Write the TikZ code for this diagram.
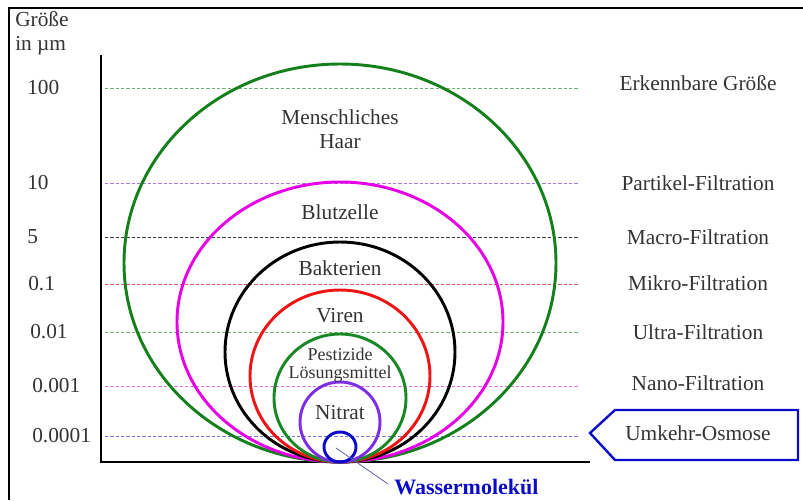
\documentclass[tikz,border=0pt]{standalone}
\usepackage{fontspec}
\setmainfont{Liberation Serif}
\usetikzlibrary{calc}

\definecolor{hairgreen}{RGB}{20,128,28}
\definecolor{bloodpink}{RGB}{230,0,230}
\definecolor{virusred}{RGB}{238,20,20}
\definecolor{pestgreen}{RGB}{25,135,35}
\definecolor{nitratviolet}{RGB}{125,45,230}
\definecolor{waterblue}{RGB}{10,10,200}
\definecolor{lgreen}{RGB}{110,180,110}
\definecolor{lviolet}{RGB}{160,120,215}
\definecolor{lblack}{RGB}{60,60,60}
\definecolor{lred}{RGB}{225,90,90}
\definecolor{lmagenta}{RGB}{230,110,230}
\definecolor{lblue}{RGB}{120,120,215}

\begin{document}
\begin{tikzpicture}[x=0.75pt,y=-0.75pt,
  lbl/.style={font=\fontsize{16}{18}\selectfont, text=black!80, inner sep=0pt},
  level/.style={dash pattern=on 2.5pt off 1.5pt, line width=0.6pt},
  ring/.style={line width=2.2pt}]
\useasboundingbox (0,0) rectangle (803,500);

% frame
\draw[line width=1.4pt] (9,500) -- (9,8) -- (803,8);

% axes
\coordinate (top) at (101,55);
\coordinate (origin) at (101,462);
\coordinate (xend) at (590,462);
\draw[line width=2.2pt] (top) -- (origin) -- (xend);
\node[lbl, anchor=north west, align=left] (unit) at (15,11) {Größe\\in \textmu m};

% sizes on the left, dashed levels
\foreach \y/\x/\val/\col/\nm in {88/27/100/lgreen/l100, 183/27/10/lviolet/l10,
    237/27/5/lblack/l5, 284/28/0.1/lred/l01, 332/30/0.01/lgreen/l001,
    386/32/0.001/lmagenta/l0001, 436/32/0.0001/lblue/l00001}{
  \node[lbl, anchor=west] (\nm) at (\x,\y) {\val};
  \draw[level,\col] (105,\y) -- (578,\y);
}

% filtration names on the right
\foreach \y/\txt/\nm in {83/Erkennbare Größe/erkenn, 183/Partikel-Filtration/partikel,
    237/Macro-Filtration/macro, 283/Mikro-Filtration/mikro,
    332/Ultra-Filtration/ultra, 383/Nano-Filtration/nano, 433/Umkehr-Osmose/osmose}{
  \node[lbl] (\nm) at (698,\y) {\txt};
}

% arrow box round Umkehr-Osmose
\coordinate (tip) at (590,433);
\draw[waterblue, line width=1.8pt, line join=miter]
  (tip) -- (615,410) -- (798,410) -- (798,460) -- (615,460) -- cycle;

% circles, all touching the axis
\foreach \rx/\ry/\col in {216/199/hairgreen, 163/140/bloodpink, 115/110/black,
    90/86/virusred, 66/64/pestgreen, 40/40/nitratviolet, 16/15/waterblue}{
  \draw[ring,\col] (340,{462-\ry}) ellipse [x radius=\rx, y radius=\ry];
}

% names in the circles
\node[lbl, align=center] (haar) at (340,129) {Menschliches\\Haar};
\node[lbl] (blut) at (340,212) {Blutzelle};
\node[lbl] (bakt) at (340,268) {Bakterien};
\node[lbl] (viren) at (340,316) {Viren};
\node[lbl, font=\fontsize{13.5}{15}\selectfont] (pest) at (340,354) {Pestizide};
\node[lbl, font=\fontsize{13.5}{15}\selectfont] (loes) at (340,374) {Lösungsmittel};
\node[lbl] (nitrat) at (340,413) {Nitrat};

% water molecule
\coordinate (mol) at (336,448);
\node[font=\fontsize{16.5}{18}\selectfont\bfseries, text=waterblue, anchor=west, inner sep=0pt]
  (wasser) at (394,487) {Wassermolekül};
\draw[lblue!80!black, line width=0.6pt] (mol) -- ($(wasser.west)+(-6,-3)$);
\end{tikzpicture}
\end{document}
